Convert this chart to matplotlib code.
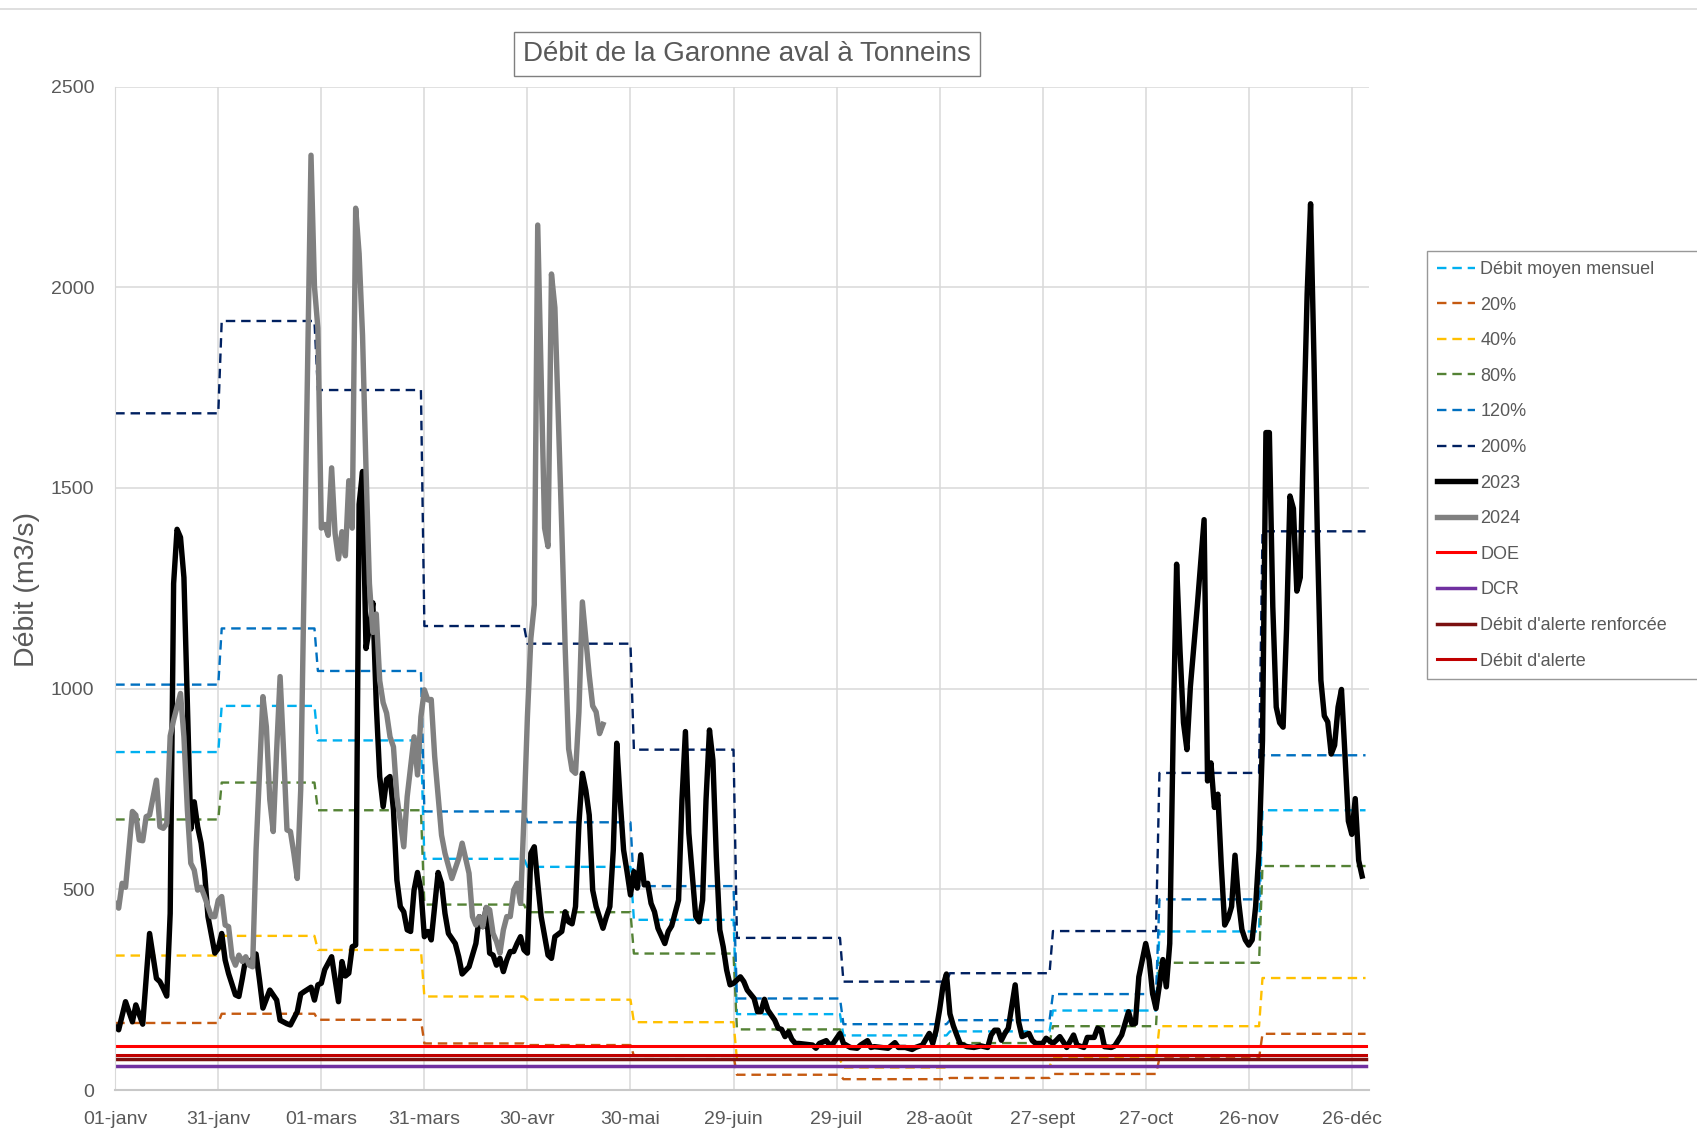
import numpy as np
import matplotlib
matplotlib.use("Agg")
import matplotlib.pyplot as plt
from matplotlib.lines import Line2D

plt.rcParams['font.family'] = ['Liberation Sans', 'DejaVu Sans']

# Axe des x : jours de l'année
tick_days = [0, 30, 60, 90, 120, 150, 180, 210, 240, 270, 300, 330, 360]
tick_labels = ['01-janv', '31-janv', '01-mars', '31-mars', '30-avr', '30-mai', '29-juin',
               '29-juil', '28-août', '27-sept', '27-oct', '26-nov', '26-déc']

# Valeurs mensuelles (m3/s)
jours_mois = [31, 28, 31, 30, 31, 30, 31, 31, 30, 31, 30, 31]
moyen_mensuel = [842, 957, 871, 576, 556, 424, 189, 136, 146, 198, 395, 697]
p20 = [167, 190, 175, 116, 112, 85, 38, 27, 30, 40, 79, 140]
p40 = [335, 384, 349, 233, 225, 169, 76, 56, 58, 79, 159, 279]
p80 = [674, 766, 697, 462, 443, 340, 151, 109, 117, 159, 317, 558]
p120 = [1010, 1150, 1044, 694, 667, 508, 228, 164, 174, 239, 475, 834]
p200 = [1686, 1916, 1744, 1156, 1112, 848, 379, 270, 291, 396, 790, 1392]

# Seuils
doe = 110
dcr = 60
alerte_renforcee = 78
alerte = 88

# Débits journaliers 2023
jours_2023 = [0, 1, 3, 5, 6, 8, 10, 12, 13, 14, 15, 16, 17, 18, 19, 20, 22, 23, 24, 25, 26, 27, 29, 30,
              31, 32, 33, 35, 36, 37, 38, 39, 41, 42, 43, 45, 47, 48, 50, 51, 53, 54, 55, 57, 58, 59,
              60, 61, 63, 65, 66, 67, 68, 69, 70, 71, 72, 73, 74, 75, 76, 77, 78, 79, 80, 81, 82, 83,
              84, 85, 86, 87, 88, 89, 90, 91, 92, 93, 94, 95, 96, 97, 99, 100, 101, 103, 105, 106,
              107, 108, 109, 110, 111, 112, 113, 114, 115, 116, 117, 118, 119, 120, 121, 122, 123,
              124, 126, 127, 128, 130, 131, 132, 133, 134, 135, 136, 137, 138, 139, 140, 142, 143,
              144, 145, 146, 147, 148, 149, 150, 151, 152, 153, 154, 155, 156, 157, 158, 160, 161,
              162, 164, 165, 166, 167, 169, 170, 171, 172, 173, 174, 175, 176, 177, 178, 179, 180,
              182, 183, 184, 186, 187, 188, 189, 190, 192, 193, 194, 195, 196, 197, 198, 199, 201,
              203, 204, 205, 207, 208, 209, 211, 212, 214, 216, 217, 219, 220, 221, 223, 225, 227,
              228, 230, 232, 233, 235, 237, 238, 239, 240, 241, 242, 243, 244, 245, 246, 248, 250,
              252, 254, 255, 256, 257, 258, 259, 260, 261, 262, 263, 264, 266, 267, 268, 270, 271,
              273, 274, 275, 276, 277, 279, 280, 282, 283, 285, 286, 287, 288, 290, 291, 293, 295,
              296, 297, 298, 300, 301, 302, 303, 304, 305, 306, 307, 308, 309, 310, 311, 312, 313,
              315, 317, 318, 319, 320, 321, 322, 323, 324, 325, 326, 327, 328, 329, 330, 331, 332,
              333, 334, 335, 336, 337, 338, 339, 340, 341, 342, 343, 344, 345, 346, 347, 348, 349,
              350, 351, 352, 353, 354, 355, 356, 357, 358, 359, 360, 361, 362, 363]
debit_2023 = [158, 150, 220, 170, 212, 164, 390, 278, 270, 253, 234, 440, 1262, 1397, 1377, 1277, 650,
              718, 656, 615, 544, 432, 341, 353, 390, 324, 290, 237, 233, 278, 328, 316, 339, 274,
              204, 249, 224, 174, 165, 162, 195, 239, 245, 256, 224, 262, 266, 300, 332, 220, 320,
              284, 291, 357, 361, 1459, 1541, 1100, 1151, 1214, 960, 781, 706, 774, 781, 698, 523,
              457, 444, 399, 395, 498, 542, 498, 382, 395, 374, 457, 542, 515, 440, 390, 365, 332,
              289, 307, 365, 432, 407, 453, 341, 336, 311, 328, 295, 324, 345, 345, 365, 382, 349,
              341, 590, 606, 515, 432, 336, 328, 382, 395, 444, 419, 414, 457, 664, 789, 747, 685,
              498, 457, 403, 432, 457, 598, 864, 723, 598, 544, 486, 544, 503, 586, 511, 515, 465,
              444, 403, 365, 395, 409, 473, 723, 893, 640, 432, 419, 473, 723, 897, 822, 581, 399,
              357, 299, 262, 266, 282, 270, 249, 228, 195, 195, 226, 199, 174, 154, 151, 133, 145,
              126, 116, 116, 114, 112, 104, 116, 123, 112, 116, 141, 116, 106, 104, 112, 123, 106,
              108, 106, 104, 118, 106, 106, 101, 106, 112, 141, 116, 149, 200, 260, 289, 190, 160,
              137, 115, 108, 106, 110, 106, 137, 149, 149, 124, 141, 154, 208, 262, 170, 133, 141,
              123, 116, 116, 129, 116, 124, 133, 120, 106, 137, 112, 106, 131, 131, 154, 149, 108,
              106, 110, 137, 195, 164, 166, 282, 365, 324, 241, 203, 262, 325, 257, 365, 893, 1310,
              1093, 915, 848, 1004, 1204, 1421, 770, 815, 704, 737, 560, 411, 428, 457, 585, 473,
              400, 374, 361, 374, 457, 598, 870, 1638, 1638, 1204, 954, 915, 904, 1149, 1480, 1449,
              1243, 1277, 1649, 1983, 2208, 1816, 1371, 1021, 932, 917, 837, 859, 954, 998, 837, 670,
              637, 726, 572, 533]

# Débits journaliers 2024 (jusqu'à mi-mai)
jours_2024 = [0, 1, 2, 3, 5, 6, 7, 8, 9, 10, 12, 13, 14, 15, 16, 17, 19, 20, 21, 22, 23, 24, 25, 26,
              27, 28, 29, 30, 31, 32, 33, 34, 35, 36, 37, 38, 39, 40, 41, 43, 44, 45, 46, 47, 48, 49,
              50, 51, 52, 53, 54, 57, 58, 59, 60, 61, 62, 63, 64, 65, 66, 67, 68, 69, 70, 71, 72, 73,
              74, 75, 76, 77, 78, 79, 80, 81, 82, 84, 85, 87, 88, 89, 90, 91, 92, 93, 95, 96, 98, 100,
              101, 103, 104, 105, 106, 107, 108, 109, 110, 111, 112, 113, 114, 115, 116, 117, 118,
              119, 120, 121, 122, 123, 125, 126, 127, 128, 130, 131, 132, 133, 134, 135, 136, 137,
              138, 139, 140, 141, 142]
debit_2024 = [465, 453, 515, 505, 694, 685, 623, 621, 681, 685, 772, 656, 652, 664, 882, 922, 988, 880,
              698, 565, 548, 498, 505, 482, 457, 432, 432, 473, 482, 411, 407, 332, 311, 336, 320, 332,
              311, 307, 598, 980, 905, 723, 644, 847, 1030, 847, 648, 644, 590, 527, 748, 2329, 2002,
              1898, 1400, 1409, 1382, 1550, 1387, 1323, 1391, 1331, 1518, 1400, 2197, 2084, 1880,
              1550, 1262, 1140, 1186, 1020, 965, 939, 880, 855, 731, 606, 731, 880, 785, 930, 997,
              972, 973, 831, 635, 590, 527, 577, 615, 540, 432, 411, 432, 407, 455, 449, 390, 370,
              341, 399, 432, 432, 498, 515, 465, 681, 930, 1125, 1209, 2155, 1400, 1354, 2033, 1949,
              1400, 1100, 850, 797, 789, 942, 1216, 1125, 1033, 957, 942, 888, 911]

# Séries journalières construites à partir des valeurs mensuelles
jours = np.arange(sum(jours_mois))
pas = dict(moyen=np.repeat(moyen_mensuel, jours_mois), p20=np.repeat(p20, jours_mois),
           p40=np.repeat(p40, jours_mois), p80=np.repeat(p80, jours_mois),
           p120=np.repeat(p120, jours_mois), p200=np.repeat(p200, jours_mois))

gris_texte = '#595959'
tiret = (0, (4, 2.5))

fig = plt.figure(figsize=(16.97, 11.32), dpi=100)
ax = fig.add_axes([0.0679, 0.0371, 0.7388, 0.8864])

ax.plot(jours, pas['moyen'], color='#00B0F0', lw=1.7, ls=tiret, label='Débit moyen mensuel')
ax.plot(jours, pas['p20'], color='#C55A11', lw=1.7, ls=tiret, label='20%')
ax.plot(jours, pas['p40'], color='#FFC000', lw=1.7, ls=tiret, label='40%')
ax.plot(jours, pas['p80'], color='#548235', lw=1.7, ls=tiret, label='80%')
ax.plot(jours, pas['p120'], color='#0070C0', lw=1.7, ls=tiret, label='120%')
ax.plot(jours, pas['p200'], color='#002060', lw=1.7, ls=tiret, label='200%')
ax.plot(jours_2023, debit_2023, color='black', lw=3.9, label='2023')
ax.plot(jours_2024, debit_2024, color='#808080', lw=3.9, label='2024')
ax.plot(jours, np.full(len(jours), doe), color='#FF0000', lw=2.2, label='DOE')
ax.plot(jours, np.full(len(jours), dcr), color='#7030A0', lw=2.5, label='DCR')
ax.plot(jours, np.full(len(jours), alerte_renforcee), color='#7B1010', lw=2.5,
        label="Débit d'alerte renforcée")
ax.plot(jours, np.full(len(jours), alerte), color='#C00000', lw=2.2, label="Débit d'alerte")

ax.set_xlim(0, 365)
ax.set_ylim(0, 2500)
ax.set_xticks(tick_days)
ax.set_xticklabels(tick_labels)
ax.set_yticks(range(0, 2501, 500))
ax.grid(True, color='#d9d9d9', lw=1.1)
ax.set_axisbelow(True)
ax.tick_params(length=0, labelsize=14, labelcolor=gris_texte)
ax.tick_params(axis='y', pad=15)
ax.tick_params(axis='x', pad=15)
for s in ['top', 'right']:
    ax.spines[s].set_visible(False)
ax.spines['left'].set_color('#d9d9d9')
ax.spines['bottom'].set_color('#c8c8c8')
ax.spines['bottom'].set_linewidth(1.5)

# Titre encadré
fig.text(0.440, 0.952, 'Débit de la Garonne aval à Tonneins', fontsize=20, color=gris_texte,
         ha='center', va='center',
         bbox=dict(boxstyle='square,pad=0.32', fc='white', ec='#7f7f7f', lw=1.0))

fig.text(0.016, 0.479, 'Débit (m3/s)', fontsize=20.5, color=gris_texte, rotation=90,
         ha='center', va='center')

# Trait gris en haut de la zone de graphique
fig.add_artist(Line2D([0, 1], [1 - 9 / 1132, 1 - 9 / 1132], color='#d9d9d9', lw=1.2))

# Légende, coupée par le bord droit comme dans l'original
haut_leg = 1 - 251 / 1132
bas_leg = 1 - 682 / 1132
leg = ax.legend(loc='upper left',
                bbox_to_anchor=(1427 / 1697, bas_leg, 0.175, haut_leg - bas_leg),
                bbox_transform=fig.transFigure, mode='expand', fontsize=13, frameon=True,
                fancybox=False, edgecolor='#7f7f7f', handlelength=2.1, handletextpad=0.3,
                labelspacing=1.03, borderpad=0.55, borderaxespad=0)
leg.get_frame().set_linewidth(1.0)
for t in leg.get_texts():
    t.set_color(gris_texte)

fig.savefig('out.png', dpi=100)
